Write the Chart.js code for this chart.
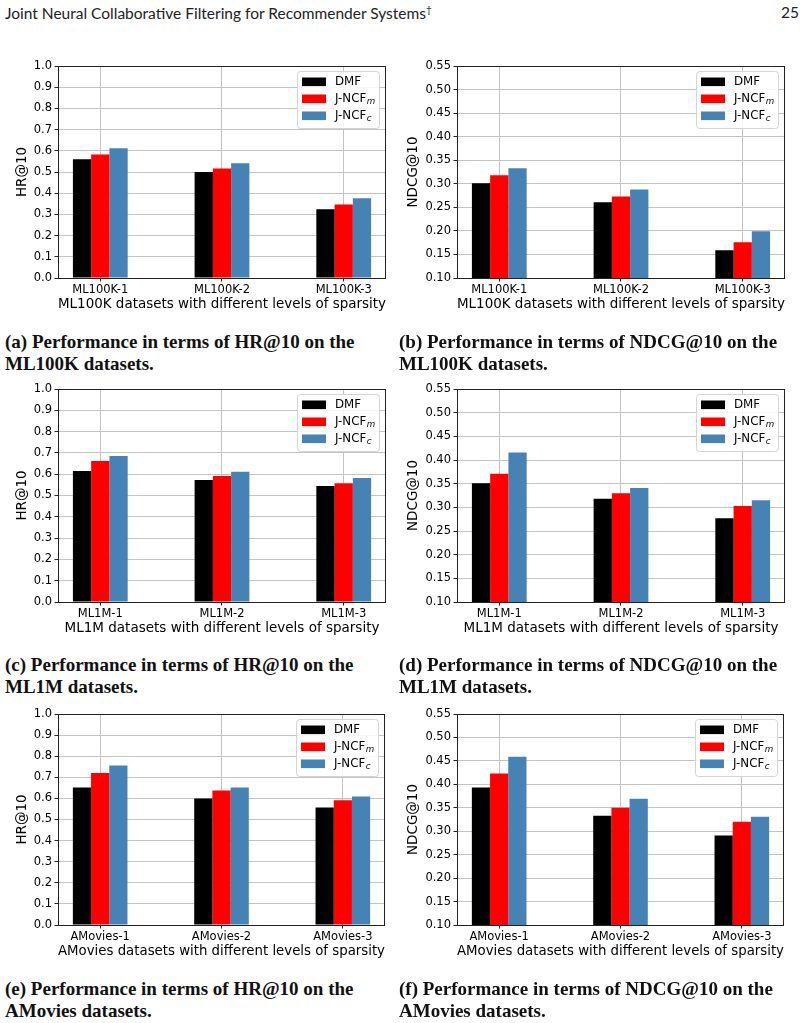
<!DOCTYPE html>
<html>
<head>
<meta charset="utf-8">
<script src="https://cdn.jsdelivr.net/npm/chart.js@4.4.0/dist/chart.umd.min.js"></script>
<style>
body { margin: 0; background: #fff; }
#page { position: relative; width: 802px; height: 1023px; overflow: hidden; }
.hdr { position: absolute; top: 3px; font-family: Lato, sans-serif; font-size: 15.5px; color: #222; white-space: nowrap; }
.cap { position: absolute; font-family: "Liberation Serif", serif; font-weight: bold; font-size: 19px; line-height: 21.5px; color: #111; white-space: nowrap; }
canvas { position: absolute; }
</style>
</head>
<body>
<div id="page">
  <div class="hdr" style="left:5px">Joint Neural Collaborative Filtering for Recommender Systems<sup style="font-size:10px">†</sup></div>
  <div class="hdr" style="left:781px">25</div>

  <canvas id="hrML100K"></canvas>
  <canvas id="ndcgML100K"></canvas>
  <canvas id="hrML1M"></canvas>
  <canvas id="ndcgML1M"></canvas>
  <canvas id="hrAMovies"></canvas>
  <canvas id="ndcgAMovies"></canvas>

  <div class="cap" style="left:5px;top:331px">(a) Performance in terms of HR@10 on the<br>ML100K datasets.</div>
  <div class="cap" style="left:399px;top:331px">(b) Performance in terms of NDCG@10 on the<br>ML100K datasets.</div>
  <div class="cap" style="left:5px;top:654px">(c) Performance in terms of HR@10 on the<br>ML1M datasets.</div>
  <div class="cap" style="left:399px;top:654px">(d) Performance in terms of NDCG@10 on the<br>ML1M datasets.</div>
  <div class="cap" style="left:5px;top:978px">(e) Performance in terms of HR@10 on the<br>AMovies datasets.</div>
  <div class="cap" style="left:399px;top:978px">(f) Performance in terms of NDCG@10 on the<br>AMovies datasets.</div>
</div>
<script>
// series: DMF, J-NCF_m, J-NCF_c
const seriesNames = ['DMF', 'J-NCF', 'J-NCF'];
const seriesSubs = ['', 'm', 'c'];
const seriesColors = ['#000000', '#ff0000', '#4682b4'];

const ml100kCats = ['ML100K-1', 'ML100K-2', 'ML100K-3'];
const ml1mCats = ['ML1M-1', 'ML1M-2', 'ML1M-3'];
const amoviesCats = ['AMovies-1', 'AMovies-2', 'AMovies-3'];

const hrTicks = [0.0, 0.1, 0.2, 0.3, 0.4, 0.5, 0.6, 0.7, 0.8, 0.9, 1.0];
const ndcgTicks = [0.10, 0.15, 0.20, 0.25, 0.30, 0.35, 0.40, 0.45, 0.50, 0.55];

// one row per series (DMF, J-NCF_m, J-NCF_c)
const hrML100K = [[0.560, 0.500, 0.324], [0.583, 0.517, 0.347], [0.612, 0.541, 0.376]];
const ndcgML100K = [[0.301, 0.261, 0.159], [0.318, 0.273, 0.176], [0.333, 0.288, 0.199]];
const hrML1M = [[0.615, 0.573, 0.545], [0.662, 0.592, 0.557], [0.686, 0.611, 0.582]];
const ndcgML1M = [[0.351, 0.318, 0.277], [0.371, 0.330, 0.303], [0.416, 0.341, 0.315]];
const hrAMovies = [[0.652, 0.600, 0.557], [0.720, 0.638, 0.591], [0.756, 0.652, 0.609]];
const ndcgAMovies = [[0.393, 0.333, 0.291], [0.423, 0.350, 0.320], [0.459, 0.369, 0.331]];

Chart.defaults.font.family = 'DejaVu Sans';
Chart.defaults.color = '#000';

// frame (all four spines) + matplotlib-like legend with subscripts
const framePlugin = {
  id: 'frame',
  afterDatasetsDraw(chart) {
    const ctx = chart.ctx, a = chart.chartArea;
    ctx.save();
    ctx.strokeStyle = '#222';
    ctx.lineWidth = 1;
    ctx.strokeRect(Math.round(a.left) + 0.5, Math.round(a.top) + 0.5,
      Math.round(a.right - a.left) - 1, Math.round(a.bottom - a.top));

    const bw = 82, bh = 57;
    const bx = Math.round(a.right) - 7 - bw, by = Math.round(a.top) + 5;
    ctx.beginPath();
    ctx.roundRect(bx + 0.5, by + 0.5, bw, bh, 3);
    ctx.fillStyle = 'rgba(255,255,255,0.85)';
    ctx.fill();
    ctx.strokeStyle = '#d4d4d4';
    ctx.stroke();

    const rows = [10.8, 27.8, 44.8];
    ctx.textBaseline = 'middle';
    seriesNames.forEach((name, i) => {
      const cy = by + rows[i];
      ctx.fillStyle = seriesColors[i];
      ctx.fillRect(bx + 5, cy - 4.3, 24, 8.6);
      ctx.fillStyle = '#000';
      ctx.font = '11.8px "DejaVu Sans"';
      ctx.fillText(name, bx + 38, cy);
      if (seriesSubs[i]) {
        const w = ctx.measureText(name).width;
        ctx.font = 'italic 8.7px "DejaVu Sans"';
        ctx.fillText(seriesSubs[i], bx + 38 + w + 0.5, cy + 3);
      }
    });
    ctx.restore();
  }
};

function panel(id, box, cats, values, yTicks, decimals, yTitle, xTitle, yTitlePad) {
  const c = document.getElementById(id);
  const L = 58, T = 11, R = 16, B = 37;
  c.width = box[2] - box[0] + L + R;
  c.height = box[3] - box[1] + T + B;
  c.style.left = (box[0] - L) + 'px';
  c.style.top = (box[1] - T) + 'px';
  c.style.width = c.width + 'px';
  c.style.height = c.height + 'px';

  new Chart(c, {
    type: 'bar',
    data: {
      datasets: values.map((vals, i) => ({
        label: seriesNames[i] + seriesSubs[i],
        data: vals.map((v, k) => ({ x: k, y: v })),
        backgroundColor: seriesColors[i],
        borderWidth: 0,
        categoryPercentage: 0.45,
        barPercentage: 1.0
      }))
    },
    options: {
      responsive: false,
      animation: false,
      layout: { padding: { left: 0, top: T, right: R, bottom: 0 } },
      plugins: { legend: { display: false }, tooltip: { enabled: false } },
      scales: {
        x: {
          type: 'linear',
          min: -0.3475,
          max: 2.3475,
          offset: false,
          border: { display: false },
          grid: { offset: false, color: '#c4c4c4', lineWidth: 1, tickColor: '#222', tickLength: 3.5 },
          afterBuildTicks: s => { s.ticks = cats.map((_, k) => ({ value: k })); },
          afterFit: s => { s.height = B; },
          ticks: {
            padding: 1.5,
            maxRotation: 0,
            autoSkip: false,
            font: { size: 11.5 },
            callback: v => cats[v]
          },
          title: { display: true, text: xTitle, font: { size: 13.5 }, padding: { top: 0, bottom: 2 } }
        },
        y: {
          min: yTicks[0],
          max: yTicks[yTicks.length - 1],
          beginAtZero: false,
          border: { display: false },
          grid: { color: '#c4c4c4', lineWidth: 1, tickColor: '#222', tickLength: 3.5 },
          afterBuildTicks: s => { s.ticks = yTicks.map(v => ({ value: v })); },
          afterFit: s => { s.width = L; },
          ticks: {
            padding: 2.5,
            font: { size: 11.5 },
            callback: v => v.toFixed(decimals)
          },
          title: { display: true, text: yTitle, font: { size: 13.5 }, padding: { top: yTitlePad, bottom: 0 } }
        }
      }
    },
    plugins: [framePlugin]
  });
}

panel('hrML100K', [58, 66, 386, 278], ml100kCats, hrML100K, hrTicks, 1, 'HR@10',
  'ML100K datasets with different levels of sparsity', 14);
panel('ndcgML100K', [457, 66, 785, 278], ml100kCats, ndcgML100K, ndcgTicks, 2, 'NDCG@10',
  'ML100K datasets with different levels of sparsity', 6);
panel('hrML1M', [58, 389, 386, 602], ml1mCats, hrML1M, hrTicks, 1, 'HR@10',
  'ML1M datasets with different levels of sparsity', 14);
panel('ndcgML1M', [457, 389, 785, 602], ml1mCats, ndcgML1M, ndcgTicks, 2, 'NDCG@10',
  'ML1M datasets with different levels of sparsity', 6);
panel('hrAMovies', [58, 714, 385, 925], amoviesCats, hrAMovies, hrTicks, 1, 'HR@10',
  'AMovies datasets with different levels of sparsity', 14);
panel('ndcgAMovies', [457, 714, 784, 925], amoviesCats, ndcgAMovies, ndcgTicks, 2, 'NDCG@10',
  'AMovies datasets with different levels of sparsity', 6);
</script>
</body>
</html>
